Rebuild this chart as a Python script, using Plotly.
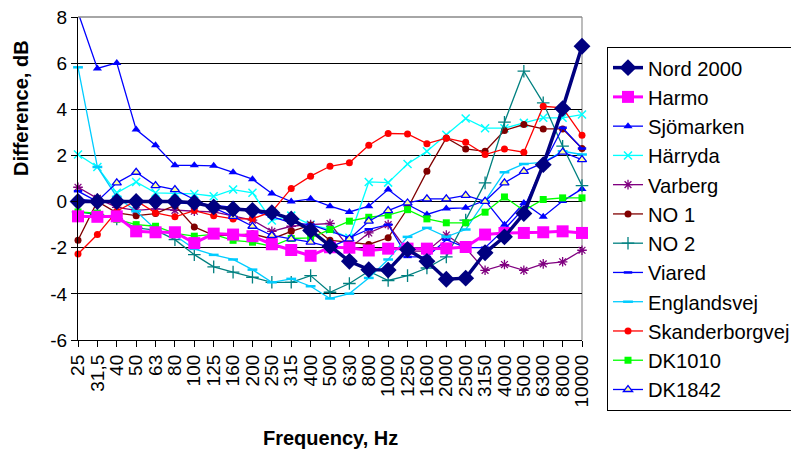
import plotly.graph_objects as go

freqs = ["25", "31,5", "40", "50", "63", "80", "100", "125", "160", "200", "250", "315", "400",
         "500", "630", "800", "1000", "1250", "1600", "2000", "2500", "3150", "4000", "5000",
         "6300", "8000", "10000"]

nord2000 = [0, 0, 0, 0, 0, 0, -0.05, -0.23, -0.32, -0.38, -0.48, -0.75, -1.25, -1.94, -2.59, -2.95,
            -2.97, -2.08, -2.59, -3.37, -3.32, -2.22, -1.53, -0.52, 1.6, 4.03, 6.73]
harmo = [-0.64, -0.66, -0.64, -1.29, -1.33, -1.33, -1.8, -1.39, -1.43, -1.5, -1.85, -2.1, -2.35,
         -1.98, -2.0, -2.12, -2.04, -2.04, -2.04, -2.03, -1.97, -1.43, -1.36, -1.36, -1.33, -1.29, -1.36]
sjomarken = [8.2, 5.77, 6.01, 3.12, 2.44, 1.57, 1.57, 1.55, 1.27, 0.97, 0.35, 0.0, 0.12, -0.2, -0.45,
             -0.2, 0.52, -0.13, -0.56, -0.3, -0.27, 0.05, -1.0, -0.06, -0.66, 0.02, 0.55]
harryda = [2.04, 1.5, 0.38, 0.85, 0.38, 0.37, 0.33, 0.23, 0.52, 0.38, -0.82, -0.61, -1.0, -1.21, -1.57,
           0.85, 0.82, 1.63, 2.18, 2.9, 3.6, 3.18, 3.18, 3.41, 3.63, 3.63, 3.77]
varberg = [0.62, 0.14, -0.25, -0.38, -0.32, -0.38, -0.42, -0.45, -0.64, -0.8, -1.29, -1.07, -1.0, -0.95,
           -2.02, -1.36, -1.0, -2.15, -2.15, -1.45, -2.01, -2.98, -2.73, -2.98, -2.7, -2.61, -2.11]
no1 = [-1.68, 0.01, -0.49, -0.61, -0.52, -0.17, -1.1, -1.46, -1.46, -1.4, -1.62, -1.29, -1.02, -1.68,
       -1.76, -1.86, -1.57, -0.3, 1.31, 2.76, 2.28, 2.18, 3.08, 3.34, 3.15, 3.15, 2.3]
no2 = [-0.45, -0.56, -0.75, -1.14, -1.24, -1.65, -2.3, -2.83, -3.06, -3.28, -3.5, -3.5, -3.21, -3.93,
       -3.55, -3.02, -3.42, -3.21, -2.88, -2.4, -0.8, 0.81, 3.44, 5.65, 4.28, 2.4, 0.69]
viared = [0.45, 0.0, 0.07, 0.0, 0.0, -0.05, -0.1, -0.15, -0.25, -0.4, -0.65, -0.92, -1.0, -1.3, -1.57,
          -1.2, -1.0, -2.4, -2.4, -1.65, -2.0, -2.0, -1.2, -0.3, 1.6, 3.2, 2.3]
englandsvej = [5.82, 1.5, 0.2, -0.42, -1.2, -1.47, -2.05, -2.31, -2.51, -2.95, -3.5, -3.35, -3.67, -4.2,
               -3.99, -3.31, -2.51, -1.53, -1.14, -1.53, -1.21, 0.02, 1.27, 1.63, 1.7, 2.18, 2.04]
skanderborgvej = [-2.27, -1.43, -0.42, 0.04, -0.49, -0.66, -0.39, -0.61, -0.75, -0.75, -0.44, 0.57, 1.1,
                  1.53, 1.68, 2.44, 2.95, 2.93, 2.51, 2.75, 2.57, 2.04, 2.28, 2.14, 4.13, 4.06, 2.87]
dk1010 = [-0.45, -0.5, -0.77, -1.0, -1.07, -1.38, -1.5, -1.42, -1.68, -1.76, -1.94, -1.6, -1.57, -1.21,
          -0.85, -0.68, -0.59, -0.35, -0.75, -0.92, -0.92, -0.46, 0.2, -0.39, 0.09, 0.16, 0.16]
dk1842 = [0.1, 0.02, 0.81, 1.27, 0.69, 0.52, 0.09, -0.27, -0.64, -1.07, -1.47, -1.62, -1.76, -1.97,
          -1.62, -0.85, -0.39, -0.06, 0.12, 0.12, 0.27, 0.01, 0.81, 1.31, 1.68, 2.14, 1.82]

y_ticks = [-6, -4, -2, 0, 2, 4, 6, 8]
y_ticktext = ["-6", "-4", "-2", "0", "2", "4", "6", "8"]

FONT = "Liberation Sans, Arial, sans-serif"

# figure is drawn inside the page body (8px default margin), so sizes are reduced by 8
W, H = 791, 445
L, R = 70, 217
PLOT_TOP, PLOT_BOTTOM = 9, 332  # figure pixel rows of y=8 and y=-6

# (name, values, line colour, line width, marker symbol, marker size, marker fill, marker line colour, marker line width, rank)
series = [
    ("Sjömarken", sjomarken, "#0000FF", 1.3, "triangle-up", 8, "#0000FF", "#0000FF", 0, 3),
    ("Härryda", harryda, "#00FFFF", 1.3, "x-thin", 8, "#00FFFF", "#00FFFF", 1.5, 4),
    ("Varberg", varberg, "#800080", 1.3, "asterisk", 8, "#800080", "#800080", 1.3, 5),
    ("NO 1", no1, "#800000", 1.3, "circle", 7, "#800000", "#800000", 0, 6),
    ("NO 2", no2, "#008080", 1.3, "cross-thin", 9, "#008080", "#008080", 1.3, 7),
    ("Viared", viared, "#0000FF", 1.3, "line-ew", 6, "#0000FF", "#0000FF", 2.5, 8),
    ("Englandsvej", englandsvej, "#00CCFF", 1.3, "line-ew", 7, "#00CCFF", "#00CCFF", 2.5, 9),
    ("Skanderborgvej", skanderborgvej, "#FF0000", 1.3, "circle", 7, "#FF0000", "#FF0000", 0, 10),
    ("DK1010", dk1010, "#00FF00", 1.3, "square", 7, "#00FF00", "#00FF00", 0, 11),
    ("DK1842", dk1842, "#0000FF", 1.3, "triangle-up", 8, "#FFFF99", "#0000FF", 1.3, 12),
    ("Harmo", harmo, "#FF00FF", 3.0, "square", 12, "#FF00FF", "#FF00FF", 0, 2),
    ("Nord 2000", nord2000, "#000080", 3.5, "diamond", 13, "#000080", "#000080", 0, 1),
]

fig = go.Figure()
for name, vals, col, lw, sym, ms, fill, mlc, mlw, rank in series:
    fig.add_trace(go.Scatter(
        x=freqs, y=vals, name=name, mode="lines+markers",
        line=dict(color=col, width=lw),
        marker=dict(symbol=sym, size=ms, color=fill, line=dict(color=mlc, width=mlw)),
        cliponaxis=False, legendrank=rank,
    ))

pw = W - L - R
fig.update_layout(
    width=W, height=H,
    margin=dict(l=L, r=R, t=0, b=0, pad=0, autoexpand=False),
    paper_bgcolor="white", plot_bgcolor="white",
    font=dict(family=FONT, size=19, color="black"),
    showlegend=True,
    legend=dict(
        x=(599 - L) / pw, y=1 - 39 / H, xanchor="left", yanchor="top",
        bordercolor="black", borderwidth=1, bgcolor="white",
        font=dict(family=FONT, size=20.2, color="black"),
        tracegroupgap=0, itemwidth=30,
    ),
    xaxis=dict(
        type="category", categoryorder="array", categoryarray=freqs,
        range=[0, 26], tickmode="array", tickvals=freqs, ticktext=freqs,
        tickangle=-90, ticks="outside", ticklen=6, tickcolor="black",
        showline=True, linecolor="black", linewidth=1.3, showgrid=False,
        tickfont=dict(family=FONT, size=19), zeroline=False, automargin=False,
        ticklabeloverflow="allow", anchor="y",
    ),
    yaxis=dict(
        domain=[1 - PLOT_BOTTOM / H, 1 - PLOT_TOP / H],
        range=[-6, 8], tickmode="array", tickvals=y_ticks, ticktext=y_ticktext,
        ticks="outside", ticklen=6, tickcolor="black",
        showline=True, linecolor="black", linewidth=1.3,
        showgrid=True, gridcolor="black", gridwidth=1, zeroline=False,
        tickfont=dict(family=FONT, size=19), automargin=False,
        ticklabeloverflow="allow",
    ),
    shapes=[
        dict(type="line", xref="x domain", yref="y domain", x0=0, x1=1, y0=1, y1=1,
             line=dict(color="#888888", width=1.3), layer="above"),
        dict(type="line", xref="x domain", yref="y domain", x0=1, x1=1, y0=0, y1=1,
             line=dict(color="#999999", width=1.3), layer="below"),
    ],
    annotations=[
        dict(text="<b>Frequency, Hz</b>", xref="paper", yref="paper",
             x=(322 - L) / pw, y=1 - 430 / H,
             xanchor="center", yanchor="middle", showarrow=False,
             font=dict(family=FONT, size=20, color="black")),
        dict(text="<b>Difference, dB</b>", xref="paper", yref="paper",
             x=(13 - L) / pw, y=1 - 100 / H,
             xanchor="center", yanchor="middle", textangle=-90, showarrow=False,
             font=dict(family=FONT, size=20, color="black")),
    ],
)

fig.write_html("out.html")
